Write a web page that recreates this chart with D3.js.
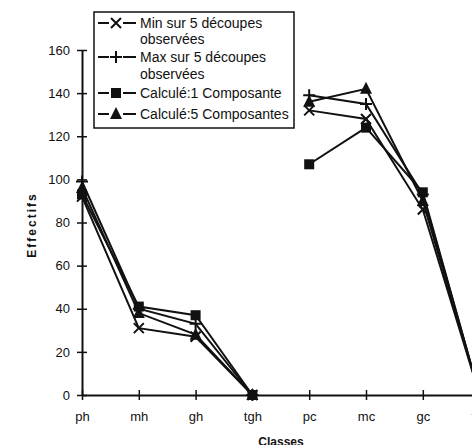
<!DOCTYPE html>
<html>
<head>
<meta charset="utf-8">
<script src="https://cdn.jsdelivr.net/npm/d3@7"></script>
<style>
    body { margin: 0; background: #fff; }
    text { font-family: Arial, "Liberation Sans", sans-serif; fill: #111; }
</style>
</head>
<body>
<div id="chart"></div>
<script>

// categories and values
var classes = ["ph", "mh", "gh", "tgh", "pc", "mc", "gc", "tgc"];
var minObs  = [92, 31, 27, 0, 132, 128, 86, 0];
var maxObs  = [99, 40, 33, 0, 139, 135, 93, 0];
var calc1   = [93, 41, 37, 0, 107, 124, 94, 0];
var calc5   = [96, 38, 28, 0, 136, 142, 90, 0];
var yTicks  = [0, 20, 40, 60, 80, 100, 120, 140, 160];
// the two groups are drawn as separate pieces of line
var groups  = [["ph", "mh", "gh", "tgh"], ["pc", "mc", "gc", "tgc"]];

var series = [
    { name: ["Min sur 5 découpes", "observées"], values: minObs, marker: "cross" },
    { name: ["Max sur 5 découpes", "observées"], values: maxObs, marker: "plus" },
    { name: ["Calculé:1 Composante"],            values: calc1,  marker: "square" },
    { name: ["Calculé:5 Composantes"],           values: calc5,  marker: "triangle" }
];

var width = 472, height = 445;

var svg = d3.select("#chart").append("svg")
    .attr("width", width)
    .attr("height", height);

var x = d3.scalePoint().domain(classes).range([82, 479.6]);
var y = d3.scaleLinear().domain([0, 160]).range([395, 50]);

// axes
var yAxis = svg.append("g").attr("transform", "translate(82,0)")
    .call(d3.axisLeft(y).tickValues(yTicks).tickSize(0).tickPadding(12));
yAxis.select(".domain").attr("stroke", "#111").attr("stroke-width", 2);
yAxis.selectAll("text").style("font-size", "13px").attr("fill", "#111");
yAxis.selectAll(".tick").append("line")
    .attr("x1", -5).attr("x2", 5)
    .attr("stroke", "#111").attr("stroke-width", 1.5);

var xAxis = svg.append("g").attr("transform", "translate(0,395)")
    .call(d3.axisBottom(x).tickSize(0).tickPadding(17));
xAxis.select(".domain").attr("stroke", "#111").attr("stroke-width", 2);
xAxis.selectAll("text").style("font-size", "13px").attr("fill", "#111");
xAxis.selectAll(".tick").append("line")
    .attr("y1", -5).attr("y2", 5)
    .attr("stroke", "#111").attr("stroke-width", 1.5);

svg.append("text")
    .attr("transform", "translate(36,225) rotate(-90)")
    .attr("text-anchor", "middle")
    .style("font-size", "12px").style("font-weight", "bold")
    .style("letter-spacing", "2px")
    .text("Effectifs");

svg.append("text")
    .attr("x", 281).attr("y", 446)
    .attr("text-anchor", "middle")
    .style("font-size", "12px").style("font-weight", "bold")
    .text("Classes");

// markers
function drawMarker(g, type) {
    if (type === "cross") {
        g.append("path").attr("d", "M-5,-5L5,5M5,-5L-5,5")
            .attr("stroke", "#111").attr("stroke-width", 2).attr("fill", "none");
    } else if (type === "plus") {
        g.append("path").attr("d", "M-6,0L6,0M0,-6L0,6")
            .attr("stroke", "#111").attr("stroke-width", 2).attr("fill", "none");
    } else if (type === "square") {
        g.append("rect").attr("x", -5).attr("y", -5).attr("width", 10).attr("height", 10)
            .attr("fill", "#111");
    } else {
        g.append("path").attr("d", "M0,-7L6,5L-6,5Z").attr("fill", "#111");
    }
}

var line = d3.line()
    .x(function (d) { return x(d.c); })
    .y(function (d) { return y(d.v); });

series.forEach(function (s) {
    var pts = classes.map(function (c, i) { return { c: c, v: s.values[i] }; });
    groups.forEach(function (grp) {
        var seg = pts.filter(function (p) { return grp.indexOf(p.c) >= 0; });
        svg.append("path")
            .attr("d", line(seg))
            .attr("fill", "none")
            .attr("stroke", "#111")
            .attr("stroke-width", 2);
    });
    pts.forEach(function (p) {
        var g = svg.append("g").attr("transform", "translate(" + x(p.c) + "," + y(p.v) + ")");
        drawMarker(g, s.marker);
    });
});

// legend
var legend = svg.append("g");
legend.append("rect")
    .attr("x", 94).attr("y", 12).attr("width", 200).attr("height", 116)
    .attr("fill", "#fff").attr("stroke", "#111").attr("stroke-width", 1.5);

var rowY = [[23, 39], [57, 74], [93], [114]];
series.forEach(function (s, i) {
    var cy = rowY[i][0];
    legend.append("line")
        .attr("x1", 98).attr("x2", 136).attr("y1", cy).attr("y2", cy)
        .attr("stroke", "#111").attr("stroke-width", 2);
    var g = legend.append("g").attr("transform", "translate(116," + cy + ")");
    g.append("rect").attr("x", -7).attr("y", -7).attr("width", 14).attr("height", 14).attr("fill", "#fff");
    drawMarker(g, s.marker);
    s.name.forEach(function (t, j) {
        legend.append("text")
            .attr("x", 140).attr("y", rowY[i][j] + 5)
            .style("font-size", "14px")
            .text(t);
    });
});

</script>
</body>
</html>
